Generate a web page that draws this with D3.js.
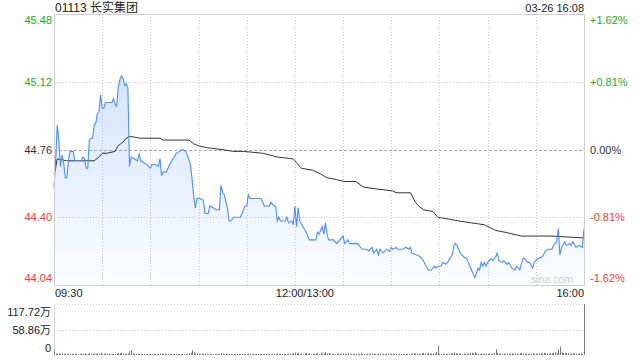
<!DOCTYPE html>
<html>
<head>
<meta charset="utf-8">
<script src="https://cdn.jsdelivr.net/npm/d3@7"></script>
<style>
  body { margin: 0; background: #fff; }
  svg { display: block; font-family: "Liberation Sans", Arial, "Noto Sans CJK SC", sans-serif; }
</style>
</head>
<body>
<div id="chart"></div>
<script>
// ---- data ----
const stockTitle = "01113 长实集团";
const stampText = "03-26 16:08";
const prevClose = 44.76;
const priceTicks = [45.48, 45.12, 44.76, 44.40, 44.04];
const pctTicks = ["+1.62%", "+0.81%", "0.00%", "-0.81%", "-1.62%"];
const volTicks = [117.72, 58.86, 0];
const volTickLabels = ["117.72万", "58.86万", "0"];
const timeLabels = ["09:30", "12:00/13:00", "16:00"];
const timeLabelAt = [0, 150, 330];   // trading minutes from 09:30
const totalMinutes = 330;

// [trading minute, price]
const pricePoints = [
  [0,44.56],[1,44.70],[2,44.89],[3,44.81],[4,44.67],[5,44.73],[6,44.69],[7,44.61],[8,44.61],[9,44.70],
  [10,44.75],[12,44.75],[13,44.70],[17,44.70],[18,44.72],[19,44.71],[20,44.66],[21,44.66],[22,44.81],[23,44.82],
  [24,44.82],[25,44.89],[26,44.90],[27,44.95],[28,44.96],[29,45.05],[30,44.98],[31,44.98],[32,45.01],[34,45.01],
  [36,45.01],[37,45.03],[38,45.00],[39,44.99],[40,45.09],[41,45.13],[42,45.15],[43,45.14],[44,45.10],[45,45.11],
  [46,45.09],[47,44.67],[48,44.72],[50,44.71],[52,44.70],[53,44.74],[54,44.70],[56,44.69],[58,44.68],[60,44.66],
  [61,44.68],[63,44.68],[65,44.67],[66,44.71],[67,44.62],[68,44.64],[70,44.64],[72,44.68],[74,44.71],[75,44.72],
  [76,44.74],[78,44.75],[80,44.76],[82,44.75],[83,44.73],[85,44.68],[86,44.60],[87,44.51],[88,44.45],[89,44.50],
  [91,44.50],[93,44.49],[94,44.42],[96,44.42],[97,44.46],[99,44.45],[101,44.44],[103,44.44],[104,44.57],[105,44.53],
  [106,44.52],[108,44.45],[109,44.38],[110,44.38],[112,44.40],[116,44.40],[117,44.42],[119,44.46],[120,44.46],[121,44.52],
  [122,44.50],[129,44.50],[131,44.46],[134,44.46],[135,44.48],[137,44.46],[138,44.46],[139,44.38],[140,44.40],[141,44.38],
  [144,44.38],[145,44.40],[146,44.37],[148,44.38],[149,44.36],[150,44.46],[151,44.35],[152,44.45],[153,44.38],[155,44.35],
  [157,44.32],[159,44.28],[163,44.28],[164,44.32],[165,44.31],[167,44.35],[168,44.31],[169,44.37],[170,44.31],[171,44.28],
  [174,44.28],[176,44.26],[177,44.27],[180,44.30],[181,44.26],[183,44.28],[184,44.26],[189,44.26],[192,44.23],[195,44.23],
  [196,44.22],[198,44.24],[199,44.21],[201,44.23],[202,44.20],[203,44.23],[205,44.21],[207,44.23],[209,44.22],[210,44.24],
  [211,44.23],[213,44.24],[214,44.23],[217,44.23],[219,44.24],[221,44.23],[222,44.24],[223,44.21],[226,44.20],[228,44.19],
  [230,44.17],[231,44.15],[233,44.12],[235,44.12],[237,44.14],[238,44.13],[239,44.14],[241,44.14],[242,44.16],[244,44.15],
  [245,44.16],[248,44.20],[249,44.25],[250,44.26],[251,44.25],[253,44.21],[255,44.19],[257,44.18],[259,44.14],[261,44.10],
  [262,44.08],[263,44.10],[264,44.13],[265,44.12],[266,44.16],[267,44.14],[268,44.16],[269,44.14],[270,44.16],[272,44.18],
  [273,44.17],[275,44.19],[276,44.21],[277,44.17],[279,44.16],[280,44.17],[282,44.15],[283,44.16],[285,44.13],[287,44.12],
  [288,44.14],[290,44.12],[292,44.18],[293,44.18],[295,44.16],[296,44.16],[298,44.13],[299,44.16],[301,44.18],[304,44.19],
  [306,44.22],[308,44.23],[310,44.23],[311,44.25],[313,44.27],[314,44.34],[315,44.20],[316,44.24],[318,44.27],[319,44.25],
  [321,44.26],[322,44.25],[323,44.27],[325,44.24],[327,44.25],[329,44.24],[330,44.34]
];

// [trading minute, average price]
const avgPoints = [
  [0,44.63],[1,44.66],[2,44.71],[8,44.70],[25,44.70],[28,44.72],[30,44.74],[33,44.74],[38,44.75],[40,44.78],
  [43,44.80],[45,44.82],[47,44.83],[54,44.82],[66,44.82],[68,44.81],[84,44.81],[87,44.79],[90,44.78],[95,44.77],
  [104,44.76],[112,44.75],[118,44.75],[130,44.74],[139,44.72],[149,44.71],[151,44.69],[154,44.66],[161,44.65],[166,44.63],
  [170,44.61],[176,44.60],[181,44.59],[188,44.59],[191,44.57],[193,44.56],[201,44.55],[211,44.54],[213,44.53],[222,44.53],
  [225,44.48],[227,44.46],[230,44.44],[236,44.43],[239,44.40],[246,44.39],[252,44.38],[260,44.37],[268,44.36],[275,44.33],
  [281,44.32],[291,44.30],[302,44.30],[310,44.30],[330,44.29]
];

// volume per minute, in 万 shares (minute 0 .. 330)
const volumes = [
  9.5,3.2,2.6,4.1,2.2,3.5,1.8,2.9,2.4,3.1,1.6,2.7,2.0,3.4,1.9,2.3,1.5,2.8,2.1,3.6,1.7,2.5,4.2,2.2,1.8,3.0,2.6,3.8,2.9,5.1,
  2.4,2.0,3.3,1.8,2.6,2.2,1.9,3.1,2.5,2.8,4.6,3.9,5.4,3.2,2.7,3.5,2.9,8.8,11.6,4.3,2.8,2.2,3.0,1.9,2.5,1.7,2.3,2.0,1.6,2.4,
  1.8,2.1,1.5,2.6,1.9,2.2,3.1,1.7,2.0,1.6,2.3,1.8,2.5,1.4,2.0,1.9,2.7,1.6,2.2,1.8,2.4,1.5,2.1,2.8,3.4,5.2,10.8,6.3,4.1,3.2,
  2.6,2.1,3.0,2.4,3.7,2.2,1.9,2.6,2.0,1.7,2.3,1.8,2.5,2.1,4.4,3.1,2.2,2.7,3.3,2.9,2.0,1.6,2.4,1.8,2.1,1.5,2.2,1.9,2.6,3.0,
  2.3,3.6,2.0,1.7,2.4,1.6,2.2,1.9,1.5,2.1,1.8,2.6,1.7,2.3,1.6,2.0,1.9,2.5,2.2,3.4,2.6,2.0,1.8,2.3,1.7,2.4,2.9,2.1,3.2,4.0,
  5.6,3.9,4.8,2.7,3.1,2.4,3.6,4.5,2.9,3.3,2.2,2.6,1.9,3.0,4.1,2.5,5.8,3.2,3.7,6.4,3.5,4.2,2.8,2.4,3.1,2.0,2.7,3.4,2.3,2.6,
  3.8,2.9,2.2,3.3,2.5,1.9,2.4,2.0,1.7,2.6,2.1,3.5,2.8,2.3,1.8,2.5,2.9,2.2,3.1,2.4,1.9,2.7,3.3,2.0,2.6,2.2,1.8,2.4,2.1,2.9,
  2.5,3.0,2.2,2.7,1.9,2.3,1.6,2.1,2.6,1.8,2.4,2.0,2.8,3.6,4.2,3.1,2.7,3.4,2.5,3.9,4.6,3.3,2.8,5.2,3.5,2.9,3.8,2.6,6.8,21.5,
  3.1,2.5,3.4,2.2,2.9,2.0,2.6,3.5,4.3,5.9,4.1,3.2,2.7,3.6,2.4,3.0,2.2,2.8,3.7,4.5,5.3,4.0,6.2,3.8,3.3,2.6,3.1,2.4,2.9,3.5,
  2.8,3.6,2.3,3.2,4.7,13.2,5.5,3.4,2.9,2.5,3.3,2.1,2.7,2.4,3.0,3.8,2.6,3.5,2.2,2.8,3.9,4.8,3.6,2.9,3.4,2.5,3.1,2.3,3.7,2.8,
  3.3,2.6,3.9,4.4,3.0,5.6,4.1,3.5,2.9,4.7,3.8,5.2,6.1,4.4,12.4,19.6,5.8,4.6,3.7,5.1,4.2,3.5,2.8,3.6,4.3,3.1,2.7,3.9,3.4,2.6,
  117.72
];

// ---- layout ----
const width = 640, height = 360;
const plot = { left: 54, right: 585, top: 14, bottom: 285 };
const vol = { top: 304, bottom: 355 };
const green = "#2ca52c", red = "#ee3b3b", dark = "#333";

const svg = d3.select("#chart").append("svg")
  .attr("width", width).attr("height", height);

const x = d3.scaleLinear().domain([0, totalMinutes]).range([plot.left, plot.right - 1]);
const y = d3.scaleLinear().domain([44.04, 45.48]).range([plot.bottom, plot.top]);
const yv = d3.scaleLinear().domain([0, 117.72]).range([vol.bottom, vol.top]);

// gradient for area
const grad = svg.append("defs").append("linearGradient")
  .attr("id", "areaFill").attr("x1", 0).attr("y1", 0).attr("x2", 0).attr("y2", 1)
  .attr("gradientUnits", "userSpaceOnUse")
  .attr("y1", plot.top).attr("y2", plot.bottom).attr("x1", 0).attr("x2", 0);
grad.append("stop").attr("offset", 0).attr("stop-color", "#4a8cf0").attr("stop-opacity", 0.3);
grad.append("stop").attr("offset", 1).attr("stop-color", "#4a8cf0").attr("stop-opacity", 0.02);

// grid lines (every 30 minutes)
const gridMinutes = d3.range(30, totalMinutes, 30);
svg.append("g").selectAll("line")
  .data(gridMinutes)
  .join("line")
  .attr("x1", d => Math.round(x(d)) + 0.5).attr("x2", d => Math.round(x(d)) + 0.5)
  .attr("y1", plot.top).attr("y2", plot.bottom)
  .attr("stroke", "#c8c8c8").attr("stroke-dasharray", "1,2");

svg.append("g").selectAll("line")
  .data(priceTicks.slice(1, -1))
  .join("line")
  .attr("x1", plot.left).attr("x2", plot.right)
  .attr("y1", d => Math.round(y(d)) + 0.5).attr("y2", d => Math.round(y(d)) + 0.5)
  .attr("stroke", d => d === prevClose ? "#aaa" : "#c8c8c8")
  .attr("stroke-dasharray", d => d === prevClose ? "3,2" : "1,2");

// area + lines
const area = d3.area()
  .x(d => x(d[0])).y0(plot.bottom).y1(d => y(d[1]));
svg.append("path").datum(pricePoints)
  .attr("d", area).attr("fill", "url(#areaFill)");

const line = d3.line().x(d => x(d[0])).y(d => y(d[1]));
svg.append("path").datum(avgPoints)
  .attr("d", line).attr("fill", "none").attr("stroke", "#333").attr("stroke-width", 1);
svg.append("path").datum(pricePoints)
  .attr("d", line).attr("fill", "none").attr("stroke", "#4e8ef0").attr("stroke-width", 1.1);

// frame
svg.append("rect")
  .attr("x", plot.left + 0.5).attr("y", plot.top + 0.5)
  .attr("width", plot.right - plot.left - 1).attr("height", plot.bottom - plot.top)
  .attr("fill", "none").attr("stroke", "#cfcfcf");

// watermark
svg.append("text")
  .attr("x", 573).attr("y", 283).attr("text-anchor", "end")
  .attr("font-size", 10.5).attr("fill", "#ccc").text("sina.com");

// price labels (left) and percent labels (right)
const labelY = (d, i) => i === 0 ? plot.top + 10 : i === priceTicks.length - 1 ? plot.bottom - 3 : y(d) + 4;
const tickColor = d => d > prevClose ? green : d < prevClose ? red : dark;

svg.append("g").selectAll("text")
  .data(priceTicks)
  .join("text")
  .attr("x", 52).attr("y", labelY)
  .attr("text-anchor", "end").attr("font-size", 11)
  .attr("fill", tickColor)
  .text(d => d.toFixed(2));

svg.append("g").selectAll("text")
  .data(priceTicks)
  .join("text")
  .attr("x", 590).attr("y", labelY)
  .attr("font-size", 11)
  .attr("fill", tickColor)
  .text((d, i) => pctTicks[i]);

// header
svg.append("text").attr("x", 55).attr("y", 11.5)
  .attr("font-size", 12).attr("fill", "#222").text(stockTitle);
svg.append("text").attr("x", 584).attr("y", 12).attr("text-anchor", "end")
  .attr("font-size", 11).attr("fill", "#222").text(stampText);

// time labels
svg.append("g").selectAll("text")
  .data(timeLabels)
  .join("text")
  .attr("x", (d, i) => i === 0 ? x(timeLabelAt[i]) + 1 : i === 2 ? x(timeLabelAt[i]) : x(timeLabelAt[i]) + 10)
  .attr("y", 297)
  .attr("text-anchor", (d, i) => i === 0 ? "start" : i === 2 ? "end" : "middle")
  .attr("font-size", 11).attr("fill", "#222")
  .text(d => d);

// volume panel
svg.append("g").selectAll("line")
  .data(volTicks.slice(0, 2))
  .join("line")
  .attr("x1", plot.left).attr("x2", plot.right)
  .attr("y1", d => Math.round(yv(d)) + 0.5).attr("y2", d => Math.round(yv(d)) + 0.5)
  .attr("stroke", "#c8c8c8").attr("stroke-dasharray", "1,2");

svg.append("line")
  .attr("x1", plot.left + 0.5).attr("x2", plot.left + 0.5)
  .attr("y1", vol.top).attr("y2", vol.bottom)
  .attr("stroke", "#d5d5d5");

svg.append("g").selectAll("line")
  .data(volumes)
  .join("line")
  .attr("x1", (d, i) => Math.round(x(i)) + 0.5).attr("x2", (d, i) => Math.round(x(i)) + 0.5)
  .attr("y1", vol.bottom).attr("y2", d => Math.min(vol.bottom - 1, yv(d)))
  .attr("stroke", "#777").attr("stroke-width", 1);

svg.append("g").selectAll("text")
  .data(volTicks)
  .join("text")
  .attr("x", 51)
  .attr("y", (d, i) => i === 0 ? vol.top + 12 : i === 2 ? vol.bottom - 3 : yv(d) + 4)
  .attr("text-anchor", "end").attr("font-size", 11).attr("fill", "#222")
  .text((d, i) => volTickLabels[i]);
</script>
</body>
</html>
